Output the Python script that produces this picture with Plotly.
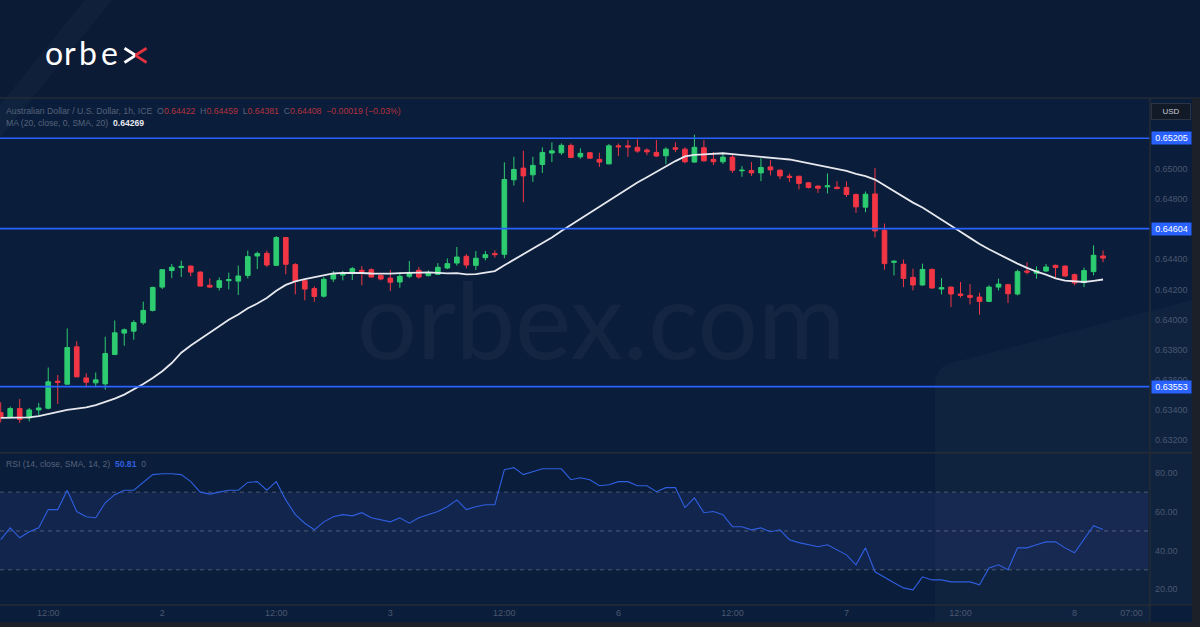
import plotly.graph_objects as go

W, H = 1200, 627
def px(x):
    return x / W
def py(y):
    return 1 - y / H

# ---------------- data (AUD/USD 1h) ----------------
opens = [0.63380, 0.63349, 0.63407, 0.63345, 0.63398, 0.63409, 0.63589, 0.63569, 0.63818, 0.63611,
         0.63578, 0.63571, 0.63767, 0.63909, 0.63922, 0.63978, 0.64060, 0.64215, 0.64325, 0.64345,
         0.64355, 0.64315, 0.64227, 0.64213, 0.64258, 0.64255, 0.64293, 0.64422, 0.64440, 0.64360,
         0.64545, 0.64365, 0.64258, 0.64205, 0.64155, 0.64269, 0.64295, 0.64305, 0.64327, 0.64331,
         0.64293, 0.64275, 0.64249, 0.64287, 0.64327, 0.64291, 0.64300, 0.64342, 0.64375, 0.64420,
         0.64360, 0.64411, 0.64438, 0.64433, 0.64929, 0.65007, 0.64962, 0.65031, 0.65107, 0.65109,
         0.65158, 0.65082, 0.65109, 0.65065, 0.65035, 0.65155, 0.65155, 0.65145, 0.65127, 0.65111,
         0.65089, 0.65142, 0.65133, 0.65047, 0.65142, 0.65065, 0.65049, 0.65080, 0.64989, 0.64991,
         0.64975, 0.65015, 0.64993, 0.64953, 0.64953, 0.64909, 0.64887, 0.64882, 0.64880, 0.64878,
         0.64831, 0.64747, 0.64835, 0.64593, 0.64380, 0.64367, 0.64280, 0.64229, 0.64333, 0.64202,
         0.64215, 0.64169, 0.64160, 0.64149, 0.64120, 0.64215, 0.64231, 0.64169, 0.64322, 0.64307,
         0.64322, 0.64360, 0.64355, 0.64298, 0.64245, 0.64318, 0.64422]
highs = [0.63449, 0.63420, 0.63471, 0.63411, 0.63445, 0.63680, 0.63631, 0.63940, 0.63855, 0.63642,
         0.63647, 0.63885, 0.63993, 0.63940, 0.63995, 0.64118, 0.64218, 0.64333, 0.64369, 0.64391,
         0.64360, 0.64320, 0.64273, 0.64280, 0.64311, 0.64358, 0.64458, 0.64451, 0.64458, 0.64555,
         0.64549, 0.64375, 0.64267, 0.64220, 0.64282, 0.64322, 0.64322, 0.64349, 0.64355, 0.64340,
         0.64298, 0.64329, 0.64309, 0.64389, 0.64349, 0.64327, 0.64375, 0.64405, 0.64482, 0.64435,
         0.64455, 0.64455, 0.64460, 0.65045, 0.65082, 0.65122, 0.65082, 0.65145, 0.65178, 0.65171,
         0.65171, 0.65138, 0.65113, 0.65109, 0.65167, 0.65171, 0.65193, 0.65198, 0.65138, 0.65193,
         0.65145, 0.65178, 0.65145, 0.65229, 0.65193, 0.65115, 0.65111, 0.65098, 0.65020, 0.65047,
         0.65073, 0.65060, 0.64998, 0.64971, 0.64955, 0.64915, 0.64893, 0.64971, 0.64920, 0.64918,
         0.64838, 0.64851, 0.65007, 0.64638, 0.64393, 0.64398, 0.64338, 0.64371, 0.64338, 0.64275,
         0.64220, 0.64249, 0.64235, 0.64178, 0.64227, 0.64271, 0.64238, 0.64331, 0.64380, 0.64353,
         0.64369, 0.64365, 0.64360, 0.64305, 0.64345, 0.64493, 0.64459]
lows = [0.63315, 0.63345, 0.63311, 0.63322, 0.63360, 0.63402, 0.63438, 0.63567, 0.63615, 0.63549,
        0.63549, 0.63533, 0.63762, 0.63825, 0.63865, 0.63965, 0.64053, 0.64202, 0.64275, 0.64282,
        0.64287, 0.64220, 0.64209, 0.64193, 0.64200, 0.64162, 0.64273, 0.64335, 0.64349, 0.64355,
        0.64300, 0.64167, 0.64127, 0.64118, 0.64145, 0.64249, 0.64260, 0.64262, 0.64227, 0.64280,
        0.64260, 0.64189, 0.64211, 0.64275, 0.64271, 0.64287, 0.64295, 0.64335, 0.64358, 0.64340,
        0.64329, 0.64393, 0.64411, 0.64407, 0.64891, 0.64780, 0.64915, 0.64975, 0.65047, 0.65095,
        0.65073, 0.65069, 0.65069, 0.65015, 0.65033, 0.65087, 0.65082, 0.65109, 0.65093, 0.65082,
        0.65033, 0.65113, 0.65038, 0.65042, 0.65051, 0.65027, 0.65035, 0.64975, 0.64949, 0.64955,
        0.64920, 0.64958, 0.64933, 0.64915, 0.64865, 0.64871, 0.64842, 0.64838, 0.64865, 0.64815,
        0.64709, 0.64713, 0.64545, 0.64331, 0.64293, 0.64215, 0.64193, 0.64225, 0.64205, 0.64167,
        0.64082, 0.64145, 0.64100, 0.64031, 0.64115, 0.64193, 0.64109, 0.64160, 0.64300, 0.64271,
        0.64315, 0.64278, 0.64285, 0.64227, 0.64215, 0.64293, 0.64381]
closes = [0.63349, 0.63407, 0.63335, 0.63398, 0.63411, 0.63585, 0.63582, 0.63813, 0.63618, 0.63582,
          0.63598, 0.63773, 0.63911, 0.63931, 0.63980, 0.64060, 0.64213, 0.64331, 0.64347, 0.64353,
          0.64315, 0.64222, 0.64215, 0.64258, 0.64265, 0.64289, 0.64418, 0.64438, 0.64362, 0.64545,
          0.64367, 0.64255, 0.64202, 0.64153, 0.64267, 0.64298, 0.64302, 0.64338, 0.64320, 0.64282,
          0.64269, 0.64247, 0.64287, 0.64313, 0.64282, 0.64311, 0.64347, 0.64371, 0.64415, 0.64362,
          0.64407, 0.64431, 0.64431, 0.64931, 0.64998, 0.64955, 0.65025, 0.65111, 0.65122, 0.65158,
          0.65078, 0.65105, 0.65073, 0.65047, 0.65155, 0.65149, 0.65147, 0.65120, 0.65115, 0.65087,
          0.65133, 0.65133, 0.65049, 0.65145, 0.65055, 0.65049, 0.65080, 0.64993, 0.64993, 0.64975,
          0.65011, 0.64995, 0.64955, 0.64945, 0.64905, 0.64878, 0.64873, 0.64889, 0.64871, 0.64831,
          0.64749, 0.64833, 0.64589, 0.64371, 0.64387, 0.64273, 0.64229, 0.64333, 0.64209, 0.64211,
          0.64169, 0.64160, 0.64147, 0.64120, 0.64215, 0.64235, 0.64171, 0.64318, 0.64315, 0.64325,
          0.64349, 0.64345, 0.64289, 0.64242, 0.64325, 0.64427, 0.64408]

# MA(20) values visible before 20 closes are available on screen
ma_head = [0.63345, 0.63347, 0.63348, 0.63349, 0.63357, 0.63371, 0.63383, 0.63398, 0.63407, 0.63415,
           0.63430, 0.63449, 0.63473, 0.63500, 0.63533, 0.63571, 0.63610, 0.63655, 0.63710]

rsi = [45.5, 51.6, 46.5, 49.6, 51.6, 61, 61, 71, 60, 57.3,
       56.8, 64.5, 68.7, 71, 71, 75, 79, 79.5, 79.5, 79,
       75.4, 70, 69, 70, 71, 71, 75, 75.4, 71, 75.4,
       66, 58.4, 54, 50.6, 54.7, 57.3, 58.4, 57.8, 59.4, 56.8,
       55.8, 54.7, 56.8, 54, 56.8, 58.4, 60, 62.5, 66, 61,
       62.5, 63.5, 63.5, 81.5, 82.6, 79, 80.5, 82, 82, 82,
       76.4, 77.4, 76.4, 73.3, 73.8, 75.4, 75.4, 73.3, 73.3, 70.2,
       72.3, 72.3, 62, 67, 59.4, 60, 58.4, 52.2, 52.2, 50.6,
       51.6, 49.6, 50.6, 45.5, 44, 42.9, 41.9, 42.9, 40.3, 37.7,
       32.6, 41.3, 29, 26, 23.3, 20.7, 19.7, 26.4, 24.8, 24.8,
       23.8, 23.8, 23.8, 22.3, 31, 32.6, 30, 41.3, 41.3, 42.9,
       44.4, 44.4, 41.3, 38.8, 45.5, 52.7, 50.81]

header_ohlc = dict(O=0.64422, H=0.64459, L=0.64381, C=0.64408)
header_change = "−0.00019 (−0.03%)"
header_ma = 0.64269
header_rsi = 50.81
header_rsi_ma = 0

levels = [0.65205, 0.64604, 0.63553]
price_ticks = [0.632, 0.634, 0.636, 0.638, 0.640, 0.642, 0.644, 0.646, 0.648, 0.650]
rsi_ticks = [20, 40, 60, 80]
rsi_bands = [30, 50, 70]
time_tick_idx = [5, 17, 29, 41, 53, 65, 77, 89, 101, 113, 119]
time_tick_text = ["12:00", "2", "12:00", "3", "12:00", "6", "12:00", "7", "12:00", "8", "07:00"]

n = len(closes)
idx = list(range(n))
ma = ma_head + [sum(closes[i - 19:i + 1]) / 20 for i in range(19, n)]

# ---------------- styling ----------------
BANNER = "#0b1b36"
CHART = "#0a1d3a"
GREEN = "#2ecc71"
RED = "#f23645"
BLUE = "#2962ff"
GRID_TXT = "#4a5870"
LABEL_TXT = "#56637a"
FRAME = "#262b36"
FONT = "Liberation Sans"

fig = go.Figure()
fig.add_trace(go.Candlestick(
    x=idx, open=opens, high=highs, low=lows, close=closes,
    increasing=dict(line=dict(color=GREEN, width=1), fillcolor=GREEN),
    decreasing=dict(line=dict(color=RED, width=1), fillcolor=RED),
    whiskerwidth=0, xaxis="x", yaxis="y", showlegend=False, hoverinfo="skip"))
fig.add_trace(go.Scatter(x=idx, y=ma, mode="lines", line=dict(color="#e6e8ee", width=1.8),
                         xaxis="x", yaxis="y", showlegend=False, hoverinfo="skip"))
fig.add_trace(go.Scatter(x=idx, y=rsi, mode="lines", line=dict(color="#2f5fe0", width=1.1),
                         xaxis="x2", yaxis="y2", showlegend=False, hoverinfo="skip"))

x_right = 1148
xr = [-0.074, 120.73]
fig.update_layout(
    width=W, height=H, margin=dict(l=0, r=0, t=0, b=0),
    paper_bgcolor=BANNER, plot_bgcolor="rgba(0,0,0,0)",
    font=dict(family=FONT, color=GRID_TXT, size=9),
    xaxis=dict(domain=[0, px(x_right)], range=xr, anchor="y", showticklabels=False,
               showgrid=False, zeroline=False, showline=False, rangeslider=dict(visible=False)),
    yaxis=dict(domain=[py(452.7), py(98)], range=[0.631133, 0.654733], anchor="x", side="right",
               tickvals=price_ticks, tickformat=".5f", showgrid=False, zeroline=False,
               ticks="", ticklabelstandoff=6, tickfont=dict(size=9, color=GRID_TXT)),
    xaxis2=dict(domain=[0, px(x_right)], range=xr, anchor="y2", tickvals=time_tick_idx,
                ticktext=time_tick_text, showgrid=False, zeroline=False, ticks="",
                ticklabelstandoff=2, tickfont=dict(size=9, color=GRID_TXT)),
    yaxis2=dict(domain=[py(604), py(452.7)], range=[12.4, 90.3], anchor="x2", side="right",
                tickvals=rsi_ticks, ticktext=[f"{v:.2f}" for v in rsi_ticks], showgrid=False,
                zeroline=False, ticks="", ticklabelstandoff=6, tickfont=dict(size=9, color=GRID_TXT)),
)

shapes = []
# chart background
shapes.append(dict(type="rect", xref="paper", yref="paper", x0=0, x1=px(1192), y0=py(622), y1=py(98),
                   fillcolor=CHART, line=dict(width=0), layer="below"))
# faint decorative streaks of the branded background
shapes.append(dict(type="path", xref="paper", yref="paper",
                   path=f"M {px(0)},{py(105)} L {px(85)},{py(0)} L {px(112)},{py(0)} L {px(0)},{py(138)} Z",
                   fillcolor="rgba(255,255,255,0.022)", line=dict(width=0), layer="below"))
shapes.append(dict(type="path", xref="paper", yref="paper",
                   path=f"M {px(935)},{py(622)} L {px(935)},{py(385)} Q {px(935)},{py(365)} {px(955)},{py(362)} "
                        f"L {px(1192)},{py(300)} L {px(1192)},{py(622)} Z",
                   fillcolor="rgba(255,255,255,0.022)", line=dict(width=0), layer="below"))
# RSI band and levels
shapes.append(dict(type="rect", xref="x2 domain", yref="y2", x0=0, x1=1, y0=rsi_bands[0], y1=rsi_bands[2],
                   fillcolor="rgba(80,90,210,0.13)", line=dict(width=0), layer="below"))
for b in rsi_bands:
    shapes.append(dict(type="line", xref="x2 domain", yref="y2", x0=0, x1=1, y0=b, y1=b,
                       line=dict(color="rgba(130,135,150,0.55)", width=1, dash="4px,4px"), layer="below"))
# horizontal S/R levels
for lv in levels:
    shapes.append(dict(type="line", xref="paper", yref="y", x0=0, x1=px(1150), y0=lv, y1=lv,
                       line=dict(color=BLUE, width=1.6), layer="above"))
# panel frame lines
shapes.append(dict(type="line", xref="paper", yref="paper", x0=0, x1=px(1192), y0=py(452.7), y1=py(452.7),
                   line=dict(color=FRAME, width=1.5)))
shapes.append(dict(type="line", xref="paper", yref="paper", x0=0, x1=px(1192), y0=py(605), y1=py(605),
                   line=dict(color=FRAME, width=1.5)))
shapes.append(dict(type="line", xref="paper", yref="paper", x0=px(1150), x1=px(1150), y0=py(622), y1=py(98),
                   line=dict(color=FRAME, width=1.5)))
shapes.append(dict(type="line", xref="paper", yref="paper", x0=0, x1=px(1200), y0=py(98), y1=py(98),
                   line=dict(color=FRAME, width=1.5)))
# clip of time axis inside price column
shapes.append(dict(type="rect", xref="paper", yref="paper", x0=px(1150.8), x1=px(1192), y0=py(622), y1=py(605.8),
                   fillcolor=CHART, line=dict(width=0), layer="above"))
# outer dark strips
shapes.append(dict(type="rect", xref="paper", yref="paper", x0=px(1192), x1=1, y0=0, y1=py(98),
                   fillcolor="#1c2029", line=dict(width=0), layer="above"))
shapes.append(dict(type="rect", xref="paper", yref="paper", x0=0, x1=1, y0=0, y1=py(622),
                   fillcolor="#1c2029", line=dict(width=0), layer="above"))
# logo "x" strokes
cx, cy = 135.5, 55.3
shapes.append(dict(type="line", xref="paper", yref="paper", x0=px(124.5), y0=py(48.3), x1=px(cx), y1=py(cy),
                   line=dict(color="white", width=2.8)))
shapes.append(dict(type="line", xref="paper", yref="paper", x0=px(124.5), y0=py(62.5), x1=px(cx), y1=py(cy),
                   line=dict(color="white", width=2.8)))
shapes.append(dict(type="line", xref="paper", yref="paper", x0=px(cx), y0=py(cy), x1=px(146.5), y1=py(48.3),
                   line=dict(color="#e5323f", width=2.8)))
shapes.append(dict(type="line", xref="paper", yref="paper", x0=px(cx), y0=py(cy), x1=px(146.5), y1=py(62.5),
                   line=dict(color="#e5323f", width=2.8)))

annotations = []
# logo letters
for ch, lx in [("o", 42.5), ("r", 62), ("b", 76.5), ("e", 99)]:
    annotations.append(dict(xref="paper", yref="paper", x=px(lx), y=py(52), xanchor="left", yanchor="middle",
                            text=ch, showarrow=False, font=dict(family="Lato", size=32, color="white")))
# watermark
annotations.append(dict(xref="paper", yref="paper", x=px(601), y=py(318), xanchor="center", yanchor="middle",
                        text="orbex.com", showarrow=False,
                        font=dict(family="Lato", size=106, color="rgba(255,255,255,0.04)")))
# header lines
red_dim = "#b3323c"
sp = "&nbsp;&nbsp;"
hdr = ("Australian Dollar / U.S. Dollar, 1h, ICE" + sp +
       "".join(f"{k}<span style='color:{red_dim}'>{v:.5f}</span>" + sp for k, v in header_ohlc.items()) +
       f"<span style='color:{red_dim}'>{header_change}</span>")
annotations.append(dict(xref="paper", yref="paper", x=px(4), y=py(111), xanchor="left", yanchor="middle",
                        text=hdr, showarrow=False, font=dict(family=FONT, size=8.7, color=LABEL_TXT)))
annotations.append(dict(xref="paper", yref="paper", x=px(4), y=py(122.5), xanchor="left", yanchor="middle",
                        text=f"MA (20, close, 0, SMA, 20)" + sp + f"<b><span style='color:#e8eaf0'>{header_ma:.5f}</span></b>",
                        showarrow=False, font=dict(family=FONT, size=8.6, color=LABEL_TXT)))
annotations.append(dict(xref="paper", yref="paper", x=px(4), y=py(464), xanchor="left", yanchor="middle",
                        text=f"RSI (14, close, SMA, 14, 2)" + sp + f"<b><span style='color:#2f5fe0'>{header_rsi:.2f}</span></b>" + sp + f"{header_rsi_ma}",
                        showarrow=False, font=dict(family=FONT, size=8.6, color=LABEL_TXT)))
# level labels
for lv in levels:
    annotations.append(dict(xref="paper", yref="y", x=px(1151), y=lv, xanchor="left", yanchor="middle",
                            text=f"{lv:.5f}", showarrow=False, bgcolor=BLUE, borderpad=1, width=37,
                            font=dict(family=FONT, size=9, color="white")))
# USD box
annotations.append(dict(xref="paper", yref="paper", x=px(1170.5), y=py(111.5), xanchor="center", yanchor="middle",
                        text="USD", showarrow=False, bgcolor="#131a27", bordercolor="#2c3342", borderwidth=1,
                        borderpad=3, width=32, font=dict(family=FONT, size=8, color="#c8ccd6")))

fig.update_layout(shapes=shapes, annotations=annotations)
fig.write_html("out.html", config={"displayModeBar": False},
               post_script="document.body.style.margin='0';document.body.style.overflow='hidden';")
